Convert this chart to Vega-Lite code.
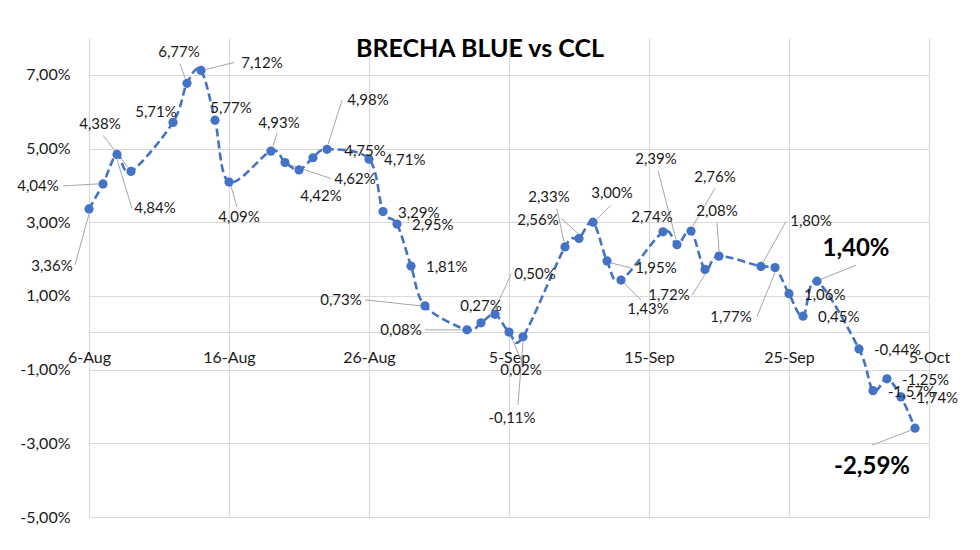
{
  "$schema": "https://vega.github.io/schema/vega-lite/v6.json",
  "autosize": "none",
  "width": 840,
  "height": 479,
  "padding": {"left": 89, "top": 38, "right": 51, "bottom": 33},
  "background": "white",
  "title": {"text": "BRECHA BLUE vs CCL", "anchor": "middle", "frame": "group", "baseline": "middle", "offset": 0, "dy": 36, "dx": -29, "font": "Lato", "fontSize": 25, "fontWeight": "bold", "color": "#000000"},
  "data": {"values": [
    {"d": "2024-08-06", "v": 0.0336}, {"d": "2024-08-07", "v": 0.0404}, {"d": "2024-08-08", "v": 0.0484}, {"d": "2024-08-09", "v": 0.0438},
    {"d": "2024-08-12", "v": 0.0571}, {"d": "2024-08-13", "v": 0.0677}, {"d": "2024-08-14", "v": 0.0712}, {"d": "2024-08-15", "v": 0.0577},
    {"d": "2024-08-16", "v": 0.0409}, {"d": "2024-08-19", "v": 0.0493}, {"d": "2024-08-20", "v": 0.0462}, {"d": "2024-08-21", "v": 0.0442},
    {"d": "2024-08-22", "v": 0.0475}, {"d": "2024-08-23", "v": 0.0498}, {"d": "2024-08-26", "v": 0.0471}, {"d": "2024-08-27", "v": 0.0329},
    {"d": "2024-08-28", "v": 0.0295}, {"d": "2024-08-29", "v": 0.0181}, {"d": "2024-08-30", "v": 0.0073}, {"d": "2024-09-02", "v": 0.0008},
    {"d": "2024-09-03", "v": 0.0027}, {"d": "2024-09-04", "v": 0.0050}, {"d": "2024-09-05", "v": 0.0002}, {"d": "2024-09-06", "v": -0.0011},
    {"d": "2024-09-09", "v": 0.0233}, {"d": "2024-09-10", "v": 0.0256}, {"d": "2024-09-11", "v": 0.0300}, {"d": "2024-09-12", "v": 0.0195},
    {"d": "2024-09-13", "v": 0.0143}, {"d": "2024-09-16", "v": 0.0274}, {"d": "2024-09-17", "v": 0.0239}, {"d": "2024-09-18", "v": 0.0276},
    {"d": "2024-09-19", "v": 0.0172}, {"d": "2024-09-20", "v": 0.0208}, {"d": "2024-09-23", "v": 0.0180}, {"d": "2024-09-24", "v": 0.0177},
    {"d": "2024-09-25", "v": 0.0106}, {"d": "2024-09-26", "v": 0.0045}, {"d": "2024-09-27", "v": 0.0140}, {"d": "2024-09-30", "v": -0.0044},
    {"d": "2024-10-01", "v": -0.0157}, {"d": "2024-10-02", "v": -0.0125}, {"d": "2024-10-03", "v": -0.0174}, {"d": "2024-10-04", "v": -0.0259}
  ]},
  "encoding": {
    "x": {"field": "d", "type": "temporal",
      "scale": {"type": "utc", "domain": [{"year": 2024, "month": "Aug", "date": 6, "utc": true}, {"year": 2024, "month": "Oct", "date": 5, "utc": true}]},
      "axis": {"values": [
        {"year": 2024, "month": "Aug", "date": 6, "utc": true}, {"year": 2024, "month": "Aug", "date": 16, "utc": true},
        {"year": 2024, "month": "Aug", "date": 26, "utc": true}, {"year": 2024, "month": "Sep", "date": 5, "utc": true},
        {"year": 2024, "month": "Sep", "date": 15, "utc": true}, {"year": 2024, "month": "Sep", "date": 25, "utc": true},
        {"year": 2024, "month": "Oct", "date": 5, "utc": true}],
        "labelExpr": "utcFormat(datum.value, '%-d-%b')", "offset": -185, "ticks": false, "domainColor": "#d9d9d9", "domainWidth": 1.2,
        "grid": true, "gridColor": "#d9d9d9", "gridWidth": 1.2, "labelPadding": 17, "labelFontSize": 16, "labelFont": "Lato",
        "labelColor": "#1a1a1a", "title": null, "labelOverlap": false, "labelFlush": false}},
    "y": {"field": "v", "type": "quantitative",
      "scale": {"domain": [-0.05, 0.08], "nice": false, "zero": false},
      "axis": {"values": [-0.05, -0.03, -0.01, 0.01, 0.03, 0.05, 0.07], "format": ".2%", "ticks": false, "domain": false,
        "labelPadding": 19, "grid": true, "gridColor": "#d9d9d9", "gridWidth": 1.2, "labelFontSize": 16, "labelFont": "Lato",
        "labelColor": "#1a1a1a", "title": null}}
  },
  "layer": [
    {"encoding": {"x2": {"field": "d"}, "y2": {"field": "v"}},
     "layer": [
      {"transform": [{"filter": {"field": "v", "equal": 0.0336}}], "mark": {"type": "rule", "color": "#a6a6a6", "strokeWidth": 1, "xOffset": 0, "yOffset": 5, "x2Offset": -14, "y2Offset": 56}},
      {"transform": [{"filter": {"field": "v", "equal": 0.0404}}], "mark": {"type": "rule", "color": "#a6a6a6", "strokeWidth": 1, "xOffset": -5, "yOffset": 0, "x2Offset": -40, "y2Offset": 2}},
      {"transform": [{"filter": {"field": "v", "equal": 0.0484}}], "mark": {"type": "rule", "color": "#a6a6a6", "strokeWidth": 1, "xOffset": 0, "yOffset": 5, "x2Offset": 15, "y2Offset": 54}},
      {"transform": [{"filter": {"field": "v", "equal": 0.0438}}], "mark": {"type": "rule", "color": "#a6a6a6", "strokeWidth": 1, "xOffset": -3, "yOffset": -4, "x2Offset": -28, "y2Offset": -36}},
      {"transform": [{"filter": {"field": "v", "equal": 0.0677}}], "mark": {"type": "rule", "color": "#a6a6a6", "strokeWidth": 1, "xOffset": -2, "yOffset": -5, "x2Offset": -7, "y2Offset": -20}},
      {"transform": [{"filter": {"field": "v", "equal": 0.0712}}], "mark": {"type": "rule", "color": "#a6a6a6", "strokeWidth": 1, "xOffset": 5, "yOffset": -1, "x2Offset": 33, "y2Offset": -8}},
      {"transform": [{"filter": {"field": "v", "equal": 0.0409}}], "mark": {"type": "rule", "color": "#a6a6a6", "strokeWidth": 1, "xOffset": 2, "yOffset": 4, "x2Offset": 8, "y2Offset": 25}},
      {"transform": [{"filter": {"field": "v", "equal": 0.0493}}], "mark": {"type": "rule", "color": "#a6a6a6", "strokeWidth": 1, "xOffset": 2, "yOffset": -5, "x2Offset": 6, "y2Offset": -18}},
      {"transform": [{"filter": {"field": "v", "equal": 0.0462}}], "mark": {"type": "rule", "color": "#a6a6a6", "strokeWidth": 1, "xOffset": 4, "yOffset": 2, "x2Offset": 46, "y2Offset": 16}},
      {"transform": [{"filter": {"field": "v", "equal": 0.0498}}], "mark": {"type": "rule", "color": "#a6a6a6", "strokeWidth": 1, "xOffset": 1, "yOffset": -5, "x2Offset": 15, "y2Offset": -49}},
      {"transform": [{"filter": {"field": "v", "equal": 0.0073}}], "mark": {"type": "rule", "color": "#a6a6a6", "strokeWidth": 1, "xOffset": -4, "yOffset": 0, "x2Offset": -60, "y2Offset": -6}},
      {"transform": [{"filter": {"field": "v", "equal": 0.0008}}], "mark": {"type": "rule", "color": "#a6a6a6", "strokeWidth": 1, "xOffset": -4, "yOffset": 0, "x2Offset": -42, "y2Offset": 0}},
      {"transform": [{"filter": {"field": "v", "equal": 0.0050}}], "mark": {"type": "rule", "color": "#a6a6a6", "strokeWidth": 1, "xOffset": 0, "yOffset": -5, "x2Offset": 16, "y2Offset": -40}},
      {"transform": [{"filter": {"field": "v", "equal": 0.0002}}], "mark": {"type": "rule", "color": "#a6a6a6", "strokeWidth": 1, "xOffset": 2, "yOffset": 4, "x2Offset": 12, "y2Offset": 28}},
      {"transform": [{"filter": {"field": "v", "equal": -0.0011}}], "mark": {"type": "rule", "color": "#a6a6a6", "strokeWidth": 1, "xOffset": 0, "yOffset": 5, "x2Offset": -5, "y2Offset": 68}},
      {"transform": [{"filter": {"field": "v", "equal": 0.0233}}], "mark": {"type": "rule", "color": "#a6a6a6", "strokeWidth": 1, "xOffset": -1, "yOffset": -5, "x2Offset": -8, "y2Offset": -38}},
      {"transform": [{"filter": {"field": "v", "equal": 0.0256}}], "mark": {"type": "rule", "color": "#a6a6a6", "strokeWidth": 1, "xOffset": -1, "yOffset": -5, "x2Offset": -18, "y2Offset": -20}},
      {"transform": [{"filter": {"field": "v", "equal": 0.0300}}], "mark": {"type": "rule", "color": "#a6a6a6", "strokeWidth": 1, "xOffset": 4, "yOffset": -3, "x2Offset": 18, "y2Offset": -17}},
      {"transform": [{"filter": {"field": "v", "equal": 0.0195}}], "mark": {"type": "rule", "color": "#a6a6a6", "strokeWidth": 1, "xOffset": 4, "yOffset": 2, "x2Offset": 24, "y2Offset": 7}},
      {"transform": [{"filter": {"field": "v", "equal": 0.0143}}], "mark": {"type": "rule", "color": "#a6a6a6", "strokeWidth": 1, "xOffset": 3, "yOffset": 3, "x2Offset": 20, "y2Offset": 20}},
      {"transform": [{"filter": {"field": "v", "equal": 0.0239}}], "mark": {"type": "rule", "color": "#a6a6a6", "strokeWidth": 1, "xOffset": -1, "yOffset": -5, "x2Offset": -19, "y2Offset": -74}},
      {"transform": [{"filter": {"field": "v", "equal": 0.0276}}], "mark": {"type": "rule", "color": "#a6a6a6", "strokeWidth": 1, "xOffset": 2, "yOffset": -5, "x2Offset": 24, "y2Offset": -43}},
      {"transform": [{"filter": {"field": "v", "equal": 0.0172}}], "mark": {"type": "rule", "color": "#a6a6a6", "strokeWidth": 1, "xOffset": 0, "yOffset": 5, "x2Offset": -13, "y2Offset": 26}},
      {"transform": [{"filter": {"field": "v", "equal": 0.0208}}], "mark": {"type": "rule", "color": "#a6a6a6", "strokeWidth": 1, "xOffset": 0, "yOffset": -5, "x2Offset": -2, "y2Offset": -33}},
      {"transform": [{"filter": {"field": "v", "equal": 0.0180}}], "mark": {"type": "rule", "color": "#a6a6a6", "strokeWidth": 1, "xOffset": 2, "yOffset": -4, "x2Offset": 25, "y2Offset": -45}},
      {"transform": [{"filter": {"field": "v", "equal": 0.0177}}], "mark": {"type": "rule", "color": "#a6a6a6", "strokeWidth": 1, "xOffset": 0, "yOffset": 5, "x2Offset": -18, "y2Offset": 49}},
      {"transform": [{"filter": {"field": "v", "equal": 0.0140}}], "mark": {"type": "rule", "color": "#a6a6a6", "strokeWidth": 1, "xOffset": 4, "yOffset": -2, "x2Offset": 39, "y2Offset": -16}},
      {"transform": [{"filter": {"field": "v", "equal": -0.0259}}], "mark": {"type": "rule", "color": "#a6a6a6", "strokeWidth": 1, "xOffset": -4, "yOffset": 2, "x2Offset": -43, "y2Offset": 17}}
     ]},
    {"mark": {"type": "line", "color": "#4472C4", "strokeWidth": 2.6, "strokeDash": [8, 4], "interpolate": "cardinal"}},
    {"mark": {"type": "circle", "color": "#4472C4", "size": 85, "opacity": 1}},
    {"encoding": {"text": {"field": "v", "type": "quantitative", "format": ".2%"}},
     "layer": [
      {"transform": [{"filter": {"field": "v", "oneOf": [0.0471, 0.0329, 0.0295, 0.0181, 0.0106, 0.0045, -0.0044, -0.0125, -0.0157]}}], "mark": {"type": "text", "align": "left", "dx": 15, "dy": 1}},
      {"transform": [{"filter": {"field": "v", "equal": -0.0174}}], "mark": {"type": "text", "align": "left", "dx": 10, "dy": 1}},
      {"transform": [{"filter": {"field": "v", "equal": 0.0336}}], "mark": {"type": "text", "dx": -37, "dy": 57}},
      {"transform": [{"filter": {"field": "v", "equal": 0.0404}}], "mark": {"type": "text", "dx": -65, "dy": 2}},
      {"transform": [{"filter": {"field": "v", "equal": 0.0484}}], "mark": {"type": "text", "dx": 38, "dy": 54}},
      {"transform": [{"filter": {"field": "v", "equal": 0.0438}}], "mark": {"type": "text", "dx": -31, "dy": -47}},
      {"transform": [{"filter": {"field": "v", "equal": 0.0571}}], "mark": {"type": "text", "dx": -17, "dy": -10}},
      {"transform": [{"filter": {"field": "v", "equal": 0.0677}}], "mark": {"type": "text", "dx": -8, "dy": -31}},
      {"transform": [{"filter": {"field": "v", "equal": 0.0712}}], "mark": {"type": "text", "dx": 61, "dy": -7}},
      {"transform": [{"filter": {"field": "v", "equal": 0.0577}}], "mark": {"type": "text", "dx": 16, "dy": -12}},
      {"transform": [{"filter": {"field": "v", "equal": 0.0409}}], "mark": {"type": "text", "dx": 10, "dy": 35}},
      {"transform": [{"filter": {"field": "v", "equal": 0.0493}}], "mark": {"type": "text", "dx": 8, "dy": -28}},
      {"transform": [{"filter": {"field": "v", "equal": 0.0462}}], "mark": {"type": "text", "dx": 70, "dy": 16}},
      {"transform": [{"filter": {"field": "v", "equal": 0.0442}}], "mark": {"type": "text", "dx": 22, "dy": 26}},
      {"transform": [{"filter": {"field": "v", "equal": 0.0475}}], "mark": {"type": "text", "dx": 52, "dy": -7}},
      {"transform": [{"filter": {"field": "v", "equal": 0.0498}}], "mark": {"type": "text", "dx": 41, "dy": -49}},
      {"transform": [{"filter": {"field": "v", "equal": 0.0073}}], "mark": {"type": "text", "dx": -84, "dy": -6}},
      {"transform": [{"filter": {"field": "v", "equal": 0.0008}}], "mark": {"type": "text", "dx": -66, "dy": 0}},
      {"transform": [{"filter": {"field": "v", "equal": 0.0027}}], "mark": {"type": "text", "dx": 0, "dy": -17}},
      {"transform": [{"filter": {"field": "v", "equal": 0.0050}}], "mark": {"type": "text", "dx": 40, "dy": -40}},
      {"transform": [{"filter": {"field": "v", "equal": 0.0002}}], "mark": {"type": "text", "dx": 12, "dy": 38}},
      {"transform": [{"filter": {"field": "v", "equal": -0.0011}}], "mark": {"type": "text", "dx": -11, "dy": 81}},
      {"transform": [{"filter": {"field": "v", "equal": 0.0233}}], "mark": {"type": "text", "dx": -16, "dy": -50}},
      {"transform": [{"filter": {"field": "v", "equal": 0.0256}}], "mark": {"type": "text", "dx": -41, "dy": -18}},
      {"transform": [{"filter": {"field": "v", "equal": 0.0300}}], "mark": {"type": "text", "dx": 19, "dy": -29}},
      {"transform": [{"filter": {"field": "v", "equal": 0.0195}}], "mark": {"type": "text", "dx": 49, "dy": 7}},
      {"transform": [{"filter": {"field": "v", "equal": 0.0143}}], "mark": {"type": "text", "dx": 27, "dy": 29}},
      {"transform": [{"filter": {"field": "v", "equal": 0.0274}}], "mark": {"type": "text", "dx": -11, "dy": -15}},
      {"transform": [{"filter": {"field": "v", "equal": 0.0239}}], "mark": {"type": "text", "dx": -21, "dy": -86}},
      {"transform": [{"filter": {"field": "v", "equal": 0.0276}}], "mark": {"type": "text", "dx": 24, "dy": -54}},
      {"transform": [{"filter": {"field": "v", "equal": 0.0172}}], "mark": {"type": "text", "dx": -36, "dy": 26}},
      {"transform": [{"filter": {"field": "v", "equal": 0.0208}}], "mark": {"type": "text", "dx": -2, "dy": -45}},
      {"transform": [{"filter": {"field": "v", "equal": 0.0180}}], "mark": {"type": "text", "dx": 50, "dy": -45}},
      {"transform": [{"filter": {"field": "v", "equal": 0.0177}}], "mark": {"type": "text", "dx": -44, "dy": 49}},
      {"transform": [{"filter": {"field": "v", "equal": 0.0140}}], "mark": {"type": "text", "dx": 39, "dy": -32, "fontSize": 24, "fontWeight": "bold", "fill": "#000000"}},
      {"transform": [{"filter": {"field": "v", "equal": -0.0259}}], "mark": {"type": "text", "dx": -43, "dy": 39, "fontSize": 24, "fontWeight": "bold", "fill": "#000000"}}
     ]}
  ],
  "config": {
    "locale": {"number": {"decimal": ",", "thousands": ".", "grouping": [3], "currency": ["$", ""], "minus": "-"}},
    "view": {"stroke": null},
    "text": {"font": "Lato", "fontSize": 15, "fill": "#1a1a1a"}
  }
}
